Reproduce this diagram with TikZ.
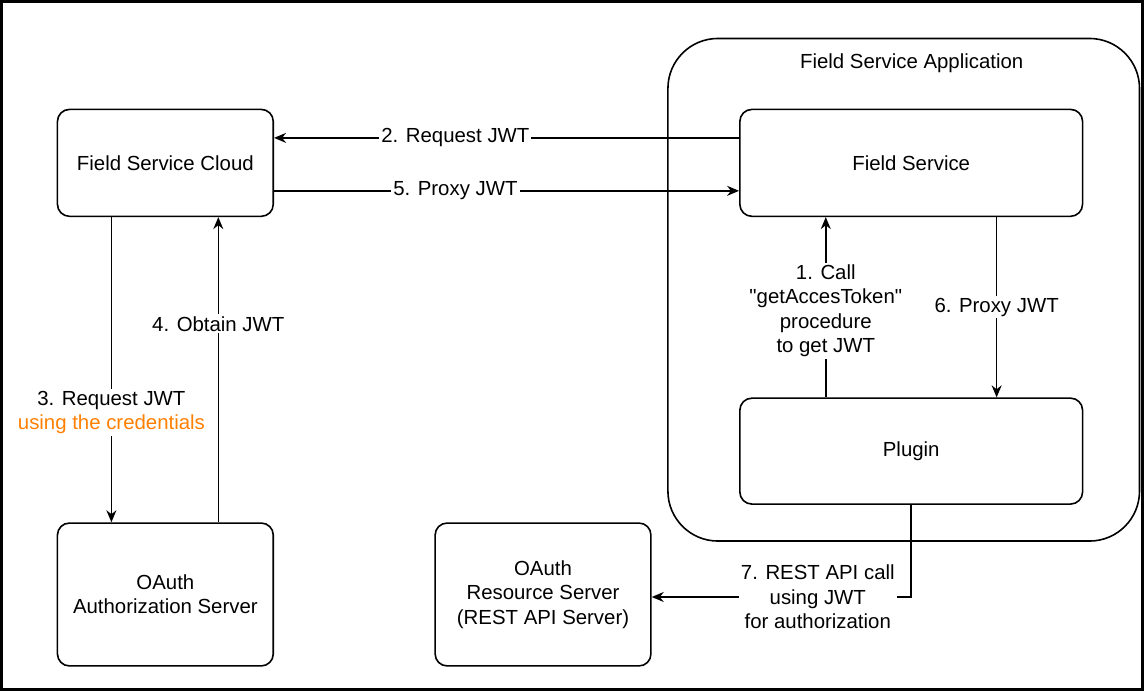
\documentclass[tikz,border=0pt]{standalone}
\usepackage{fontspec}
\setmainfont{Liberation Sans}
\usetikzlibrary{arrows.meta,calc}
\definecolor{credorange}{HTML}{FF8000}
\tikzset{
  box/.style={draw, thick, rounded corners=6pt, minimum width=108pt, align=center},
  lbl/.style={fill=white, inner sep=1pt, align=center},
  flow/.style={thick, -{Stealth[length=6pt,width=5pt]}}
}
\begin{document}
\begin{tikzpicture}[x=0.5pt, y=-0.5pt, font=\fontsize{10.2}{12.2}\selectfont]
\draw[line width=1.5pt] (1,1) rectangle (1143,690);
\useasboundingbox (0,0) rectangle (1144,691);

% container
\node[draw, thick, rounded corners=25pt, minimum width=236pt, minimum height=251.5pt] (app) at (904,289.5) {};
\node (apptitle) at (912,63) {Field Service Application};

% boxes
\node[box, minimum height=53.5pt] (fsc) at (165,162.5) {Field Service Cloud};
\node[box, minimum width=171.5pt, minimum height=53.5pt] (fs) at (911.5,162.5) {Field Service};
\node[box, minimum width=171.5pt, minimum height=53pt] (plugin) at (911.5,451) {Plugin};
\node[box, minimum height=71.5pt] (auth) at (165,594.5) {OAuth\\Authorization Server};
\node[box, minimum height=71.5pt] (res) at (543,594.5) {OAuth\\Resource Server\\(REST API Server)};

% connectors
\draw[flow] ($(fs.west)+(0,-25)$) -- node[lbl, pos=0.61] {2. Request JWT} ($(fsc.east)+(0,-25)$);
\draw[flow] ($(fsc.east)+(0,28)$) -- node[lbl, pos=0.39] {5. Proxy JWT} ($(fs.west)+(0,28)$);
\draw[flow] ($(fsc.south)+(-54,0)$) -- node[lbl, pos=0.64] {3. Request JWT\\\textcolor{credorange}{using the credentials}} ($(auth.north)+(-54,0)$);
\draw[flow] ($(auth.north)+(53,0)$) -- node[lbl, pos=0.65] {4. Obtain JWT} ($(fsc.south)+(53,0)$);
\draw[flow] ($(plugin.north)+(-85.5,0)$) -- node[lbl, pos=0.48] {1. Call\\\textquotedbl getAccesToken\textquotedbl\\procedure\\to get JWT} ($(fs.south)+(-85.5,0)$);
\draw[flow] ($(fs.south)+(85.5,0)$) -- node[lbl, pos=0.5] {6. Proxy JWT} ($(plugin.north)+(85.5,0)$);
\draw[flow] (plugin.south) |- node[lbl, pos=0.68] {7. REST API call\\using JWT\\for authorization} (res.east |- 0,597);
\end{tikzpicture}
\end{document}
